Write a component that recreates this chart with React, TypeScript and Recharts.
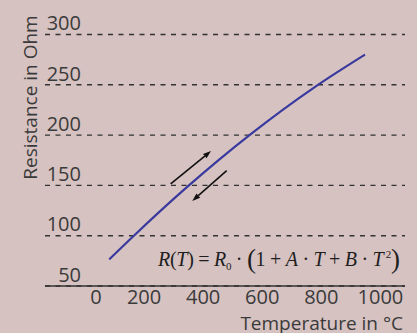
import React from 'react';
import { LineChart, Line, XAxis, YAxis, CartesianGrid, ReferenceLine, Customized } from 'recharts';

const temperatures = [82, 169, 344, 559, 779, 948];
const resistances = [76.5, 101, 148, 200.5, 248, 280];
const xTicks = [0, 200, 400, 600, 800, 1000];
const yTicks = [50, 100, 150, 200, 250, 300];
const xDomain: [number, number] = [-135.4, 1083.3];
const yDomain: [number, number] = [50, 300];
const arrowUp = [{ x: 290, y: 151.4 }, { x: 426.5, y: 184.2 }];
const arrowDown = [{ x: 479.7, y: 164.6 }, { x: 363.2, y: 134.5 }];

const data = temperatures.map((t, i) => ({ t, r: resistances[i] }));

const BG = '#d6c2c1';
const TEXT = '#3a3a3a';
const FONT = "'Open Sans', 'Noto Sans', sans-serif";

const XTick = (props: any) => {
  const { x, y, payload } = props;
  const dx = payload.value === 0 ? 11 : 0;
  return (
    <text x={x + dx} y={y + 18.3} textAnchor="middle" fontFamily={FONT} fontSize={20} fill={TEXT}>
      {payload.value}
    </text>
  );
};

const YTick = (props: any) => {
  const { x, y, payload } = props;
  return (
    <text x={x + 36} y={y - 4.3} textAnchor="end" fontFamily={FONT} fontSize={20} fill={TEXT}>
      {payload.value}
    </text>
  );
};

const Arrow = (props: any) => {
  const { x1, y1, x2, y2 } = props;
  const ang = Math.atan2(y2 - y1, x2 - x1);
  const len = 8;
  const half = 2.8;
  const bx = x2 - len * Math.cos(ang);
  const by = y2 - len * Math.sin(ang);
  const px = -Math.sin(ang) * half;
  const py = Math.cos(ang) * half;
  return (
    <g>
      <line x1={x1} y1={y1} x2={bx} y2={by} stroke="#111" strokeWidth={1.6} />
      <polygon points={`${x2},${y2} ${bx + px},${by + py} ${bx - px},${by - py}`} fill="#111" />
    </g>
  );
};

const Formula = () => (
  <text
    x={158}
    y={266}
    fontFamily="'Liberation Serif', 'Times New Roman', serif"
    fontSize={20}
    fill="#1e1e1e"
    textLength={242}
    lengthAdjust="spacing"
  >
    <tspan fontStyle="italic">R</tspan>
    <tspan>(</tspan>
    <tspan fontStyle="italic">T</tspan>
    <tspan>{') = '}</tspan>
    <tspan fontStyle="italic">R</tspan>
    <tspan fontSize={11} dy={4}>0</tspan>
    <tspan dy={-4}>{' · '}</tspan>
    <tspan fontSize={27} dy={2}>(</tspan>
    <tspan dy={-2}>{'1 + '}</tspan>
    <tspan fontStyle="italic">A</tspan>
    <tspan>{' · '}</tspan>
    <tspan fontStyle="italic">T</tspan>
    <tspan>{' + '}</tspan>
    <tspan fontStyle="italic">B</tspan>
    <tspan>{' · '}</tspan>
    <tspan fontStyle="italic">T</tspan>
    <tspan fontSize={11} dy={-8}>{' 2'}</tspan>
    <tspan fontSize={27} dy={10}>{')'}</tspan>
  </text>
);

const YLabel = (props: any) => {
  const vb = props.viewBox || { x: 44, y: 34.5 };
  const cx = 36.5;
  const cy = vb.y + 63;
  return (
    <text
      x={cx}
      y={cy}
      transform={`rotate(-90 ${cx} ${cy})`}
      textAnchor="middle"
      fontFamily={FONT}
      fontSize={19}
      fill={TEXT}
    >
      Resistance in Ohm
    </text>
  );
};

const XLabel = (props: any) => {
  const vb = props.viewBox || { x: 45, y: 286, width: 360, height: 47 };
  return (
    <text
      x={vb.x + vb.width - 2}
      y={vb.y + 44}
      textAnchor="end"
      fontFamily={FONT}
      fontSize={19}
      fill={TEXT}
    >
      Temperature in °C
    </text>
  );
};

export default function App() {
  return (
    <div style={{ position: 'absolute', left: 0, top: 0, width: 417, height: 333, background: BG, overflow: 'hidden' }}>
      <LineChart width={417} height={333} data={data} margin={{ top: 34.5, right: 12, bottom: 0, left: 44 }}>
        <CartesianGrid vertical={false} stroke="#333" strokeWidth={1.4} strokeDasharray="5 5.5" />
        <XAxis
          dataKey="t"
          type="number"
          domain={xDomain}
          ticks={xTicks}
          interval={0}
          allowDataOverflow
          height={47}
          tickSize={0}
          tickMargin={0}
          tickLine={false}
          axisLine={{ stroke: '#333', strokeWidth: 1.4 }}
          tick={<XTick />}
          label={{ content: (p: any) => <XLabel {...p} /> }}
        />
        <YAxis
          type="number"
          domain={yDomain}
          ticks={yTicks}
          interval={0}
          allowDataOverflow
          width={1}
          tickSize={0}
          tickMargin={0}
          tickLine={false}
          axisLine={false}
          tick={<YTick />}
          label={{ content: (p: any) => <YLabel {...p} /> }}
        />
        <ReferenceLine segment={arrowUp} shape={(p: any) => <Arrow {...p} />} ifOverflow="visible" />
        <ReferenceLine segment={arrowDown} shape={(p: any) => <Arrow {...p} />} ifOverflow="visible" />
        <Line
          type="monotone"
          dataKey="r"
          stroke="#3a3a9e"
          strokeWidth={2.2}
          dot={false}
          isAnimationActive={false}
        />
        <Customized component={<Formula />} />
      </LineChart>
    </div>
  );
}
